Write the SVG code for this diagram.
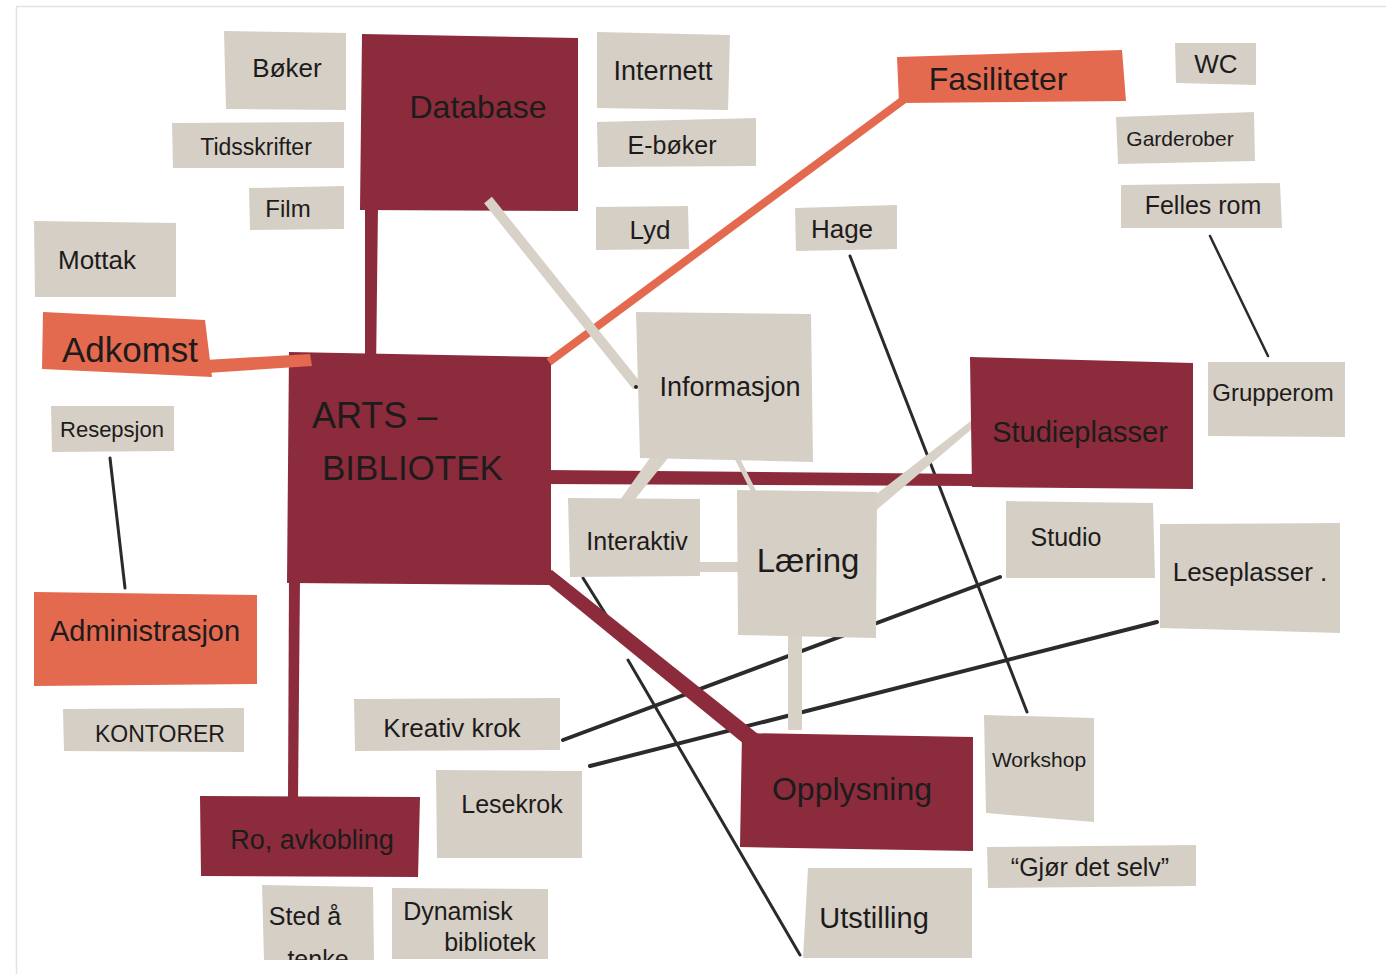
<svg xmlns="http://www.w3.org/2000/svg" width="1386" height="974" viewBox="0 0 1386 974">
<style>
.card{fill:#d6cfc5}
.red{fill:#8c2b3b}
.org{fill:#e3694f}
.t{font-family:"Liberation Sans","DejaVu Sans",sans-serif;fill:#1d1b1b;text-anchor:middle}
.pencil{stroke:#2b2b2b;stroke-linecap:round;fill:none}
.strip{fill:#d8d1c7}
</style>
<defs>
<clipPath id="stedclip"><polygon points="262,885 373,887 374,960 264,960"/></clipPath>
</defs>
<rect x="0" y="0" width="1386" height="974" fill="#ffffff"/>
<path d="M16.5,974 V6.5 H1386" fill="none" stroke="#e3e3e3" stroke-width="1.5"/>

<g id="node-database">
<polygon class="red" points="362,34 578,38 578,211 360,210"/>
<text class="t" x="478" y="118" font-size="32">Database</text>
</g>
<g id="node-artsbibliotek">
<polygon class="red" points="289,352 551,357 551,585 287,583"/>
<text class="t" x="312" y="428" font-size="36" style="text-anchor:start">ARTS –</text>
<text class="t" x="322" y="480" font-size="35" style="text-anchor:start">BIBLIOTEK</text>
</g>

<g id="connectors">
<line class="pencil" x1="110" y1="458" x2="125" y2="588" stroke-width="3"/>
<line class="pencil" x1="850" y1="256" x2="1027" y2="712" stroke-width="3"/>
<line class="pencil" x1="1210" y1="236" x2="1268" y2="356" stroke-width="2.5" stroke="#4a4a4a"/>
<line class="pencil" x1="583" y1="578" x2="613" y2="626" stroke-width="3"/>
<line class="pencil" x1="628" y1="660" x2="800" y2="955" stroke-width="3"/>
<line class="pencil" x1="563" y1="740" x2="1000" y2="577" stroke-width="4"/>
<line class="pencil" x1="590" y1="766" x2="1157" y2="622" stroke-width="4"/>
<polygon class="red" points="365,205 378,205 376,372 365,372"/>
<polygon class="red" points="545,470 975,474 975,486 545,484"/>
<polygon class="red" points="289,578 300,578 298,800 288,800"/>
<polygon class="red" points="538,576 552,570 758,734 744,744"/>
<polygon class="org" points="205,360 310,354 312,366 207,373"/>
<line x1="549" y1="362" x2="906" y2="98" stroke="#e3694f" stroke-width="8"/>
<line x1="488" y1="200" x2="637" y2="386" stroke="#d8d1c7" stroke-width="10"/>
<circle cx="636" cy="387" r="2" fill="#222"/>
<polygon class="strip" points="652,455 668,458 632,503 620,500"/>
<line x1="724" y1="432" x2="763" y2="510" stroke="#d8d1c7" stroke-width="5"/>
<polygon class="strip" points="848,516 976,417 980,422 860,524"/>
<rect class="strip" x="698" y="562" width="44" height="10"/>
<rect class="strip" x="788" y="632" width="14" height="98"/>
</g>

<g id="node-boker">
<polygon class="card" points="224,31 346,33 346,110 226,109"/>
<text class="t" x="287" y="77" font-size="26">Bøker</text>
</g>
<g id="node-tidsskrifter">
<polygon class="card" points="172,123 344,122 344,168 173,168"/>
<text class="t" x="256" y="155" font-size="23">Tidsskrifter</text>
</g>
<g id="node-film">
<polygon class="card" points="249,188 344,186 344,229 250,230"/>
<text class="t" x="288" y="217" font-size="24">Film</text>
</g>
<g id="node-internett">
<polygon class="card" points="597,32 730,35 728,110 597,108"/>
<text class="t" x="663" y="80" font-size="27">Internett</text>
</g>
<g id="node-eboker">
<polygon class="card" points="597,122 756,118 756,166 598,167"/>
<text class="t" x="672" y="154" font-size="25">E-bøker</text>
</g>
<g id="node-lyd">
<polygon class="card" points="596,207 688,206 689,249 596,250"/>
<text class="t" x="650" y="239" font-size="26">Lyd</text>
</g>
<g id="node-fasiliteter">
<polygon class="org" points="897,57 1122,50 1126,101 899,103"/>
<text class="t" x="998" y="90" font-size="32">Fasiliteter</text>
</g>
<g id="node-wc">
<polygon class="card" points="1175,43 1256,43 1256,85 1176,83"/>
<text class="t" x="1216" y="73" font-size="26">WC</text>
</g>
<g id="node-garderober">
<polygon class="card" points="1116,117 1254,112 1255,161 1118,164"/>
<text class="t" x="1180" y="146" font-size="21">Garderober</text>
</g>
<g id="node-fellesrom">
<polygon class="card" points="1121,185 1280,183 1282,228 1121,228"/>
<text class="t" x="1203" y="214" font-size="25">Felles rom</text>
</g>
<g id="node-hage">
<polygon class="card" points="795,208 897,205 897,249 796,251"/>
<text class="t" x="842" y="238" font-size="26">Hage</text>
</g>
<g id="node-mottak">
<polygon class="card" points="34,221 176,223 176,297 35,297"/>
<text class="t" x="97" y="269" font-size="26">Mottak</text>
</g>
<g id="node-adkomst">
<polygon class="org" points="43,312 205,320 212,377 42,369"/>
<text class="t" x="130" y="362" font-size="35">Adkomst</text>
</g>
<g id="node-resepsjon">
<polygon class="card" points="51,406 174,406 174,451 52,452"/>
<text class="t" x="112" y="437" font-size="22">Resepsjon</text>
</g>
<g id="node-informasjon">
<polygon class="card" points="636,312 811,314 813,462 640,458"/>
<text class="t" x="730" y="396" font-size="27">Informasjon</text>
</g>
<g id="node-studieplasser">
<polygon class="red" points="970,357 1193,363 1193,489 972,487"/>
<text class="t" x="1080" y="442" font-size="29">Studieplasser</text>
</g>
<g id="node-grupperom">
<polygon class="card" points="1208,362 1345,362 1345,437 1208,436"/>
<text class="t" x="1273" y="401" font-size="24">Grupperom</text>
</g>
<g id="node-interaktiv">
<polygon class="card" points="568,498 700,499 700,576 570,577"/>
<text class="t" x="637" y="550" font-size="25">Interaktiv</text>
</g>
<g id="node-laering">
<polygon class="card" points="737,490 877,492 876,638 738,635"/>
<text class="t" x="808" y="572" font-size="33">Læring</text>
</g>
<g id="node-studio">
<polygon class="card" points="1006,501 1153,503 1155,578 1006,578"/>
<text class="t" x="1066" y="546" font-size="25">Studio</text>
</g>
<g id="node-leseplasser">
<polygon class="card" points="1160,524 1340,523 1340,633 1160,628"/>
<text class="t" x="1250" y="581" font-size="26">Leseplasser .</text>
</g>
<g id="node-administrasjon">
<polygon class="org" points="34,592 257,595 257,684 34,686"/>
<text class="t" x="145" y="641" font-size="29">Administrasjon</text>
</g>
<g id="node-kontorer">
<polygon class="card" points="63,709 244,708 244,752 64,751"/>
<text class="t" x="160" y="742" font-size="23">KONTORER</text>
</g>
<g id="node-kreativkrok">
<polygon class="card" points="354,699 560,698 560,750 355,751"/>
<text class="t" x="452" y="737" font-size="26">Kreativ krok</text>
</g>
<g id="node-opplysning">
<polygon class="red" points="742,733 973,737 973,851 740,847"/>
<text class="t" x="852" y="800" font-size="32">Opplysning</text>
</g>
<g id="node-workshop">
<polygon class="card" points="984,715 1094,718 1094,822 986,813"/>
<text class="t" x="1039" y="767" font-size="21">Workshop</text>
</g>
<g id="node-roavkobling">
<polygon class="red" points="200,796 420,797 418,877 201,876"/>
<text class="t" x="312" y="849" font-size="27">Ro, avkobling</text>
</g>
<g id="node-lesekrok">
<polygon class="card" points="436,770 582,771 582,858 437,858"/>
<text class="t" x="512" y="813" font-size="25">Lesekrok</text>
</g>
<g id="node-gjordetselv">
<polygon class="card" points="987,847 1196,845 1196,886 988,888"/>
<text class="t" x="1090" y="876" font-size="25">“Gjør det selv”</text>
</g>
<g id="node-utstilling">
<polygon class="card" points="808,868 972,868 972,958 803,958"/>
<text class="t" x="874" y="928" font-size="29">Utstilling</text>
</g>
<g id="node-stedatenke">
<polygon class="card" points="262,885 373,887 374,960 264,960"/>
<g clip-path="url(#stedclip)">
<text class="t" x="305" y="925" font-size="25">Sted å</text>
<text class="t" x="318" y="968" font-size="25">tenke</text>
</g>
</g>
<g id="node-dynamiskbibliotek">
<polygon class="card" points="392,888 548,889 548,959 392,959"/>
<text class="t" x="458" y="920" font-size="25">Dynamisk</text>
<text class="t" x="490" y="951" font-size="25">bibliotek</text>
</g>
</svg>
